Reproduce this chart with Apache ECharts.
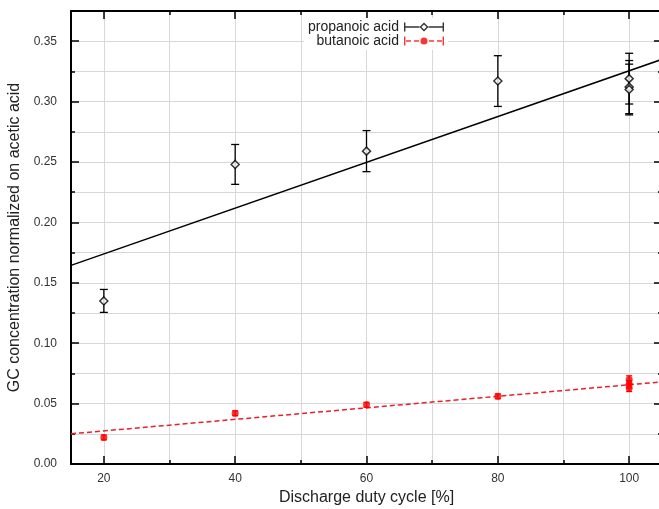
<!DOCTYPE html>
<html>
<head>
<meta charset="utf-8">
<script src="https://cdn.jsdelivr.net/npm/echarts@6/dist/echarts.min.js"></script>
<style>
  html, body { margin: 0; padding: 0; background: #fff; }
  #chart { width: 659px; height: 509px; }
</style>
</head>
<body>
<div id="chart"></div>
<script>
// values
const dutyCycle = [20, 40, 60, 80, 100, 100, 100]
const propanoic = [0.135, 0.248, 0.259, 0.317, 0.319, 0.312, 0.310]
const propanoicErr = [0.0095, 0.0165, 0.017, 0.021, 0.021, 0.022, 0.021]
const butanoic = [0.022, 0.042, 0.049, 0.056, 0.070, 0.066, 0.063]
const butanoicErr = [0.002, 0.002, 0.002, 0.002, 0.003, 0.003, 0.003]
// linear fits drawn across the plot
const propanoicFit = [[15, 0.1644], [105, 0.335]]
const butanoicFit = [[15, 0.025], [105, 0.068]]

// tick labels / grid
const xLabels = [20, 40, 60, 80, 100]
const xGrid = [20, 30, 40, 50, 60, 70, 80, 90, 100]
const yLabels = [0, 0.05, 0.1, 0.15, 0.2, 0.25, 0.3, 0.35]
const yGrid = [0, 0.025, 0.05, 0.075, 0.1, 0.125, 0.15, 0.175, 0.2, 0.225, 0.25, 0.275, 0.3, 0.325, 0.35, 0.375]

const FONT = '"Liberation Sans", Arial, sans-serif'
const chart = echarts.init(document.getElementById('chart'))

function tickAxis(position, min, max, ticks, len, withLine) {
  return {
    type: 'value', position: position, min: min, max: max,
    axisLine: { show: withLine, onZero: false, lineStyle: { color: '#000', width: 2 } },
    axisTick: { show: true, inside: true, length: len, customValues: ticks, lineStyle: { color: '#000', width: 1.5 } },
    axisLabel: { show: false },
    splitLine: { show: false }
  }
}

// error bars: value = [x, low, high]
function errorBars(color, capHalf, width) {
  return function (params, api) {
    const x = api.value(0)
    const lo = api.coord([x, api.value(1)])
    const hi = api.coord([x, api.value(2)])
    const style = { stroke: color, lineWidth: width }
    return {
      type: 'group',
      children: [
        { type: 'line', shape: { x1: lo[0], y1: lo[1], x2: hi[0], y2: hi[1] }, style: style },
        { type: 'line', shape: { x1: lo[0] - capHalf, y1: lo[1], x2: lo[0] + capHalf, y2: lo[1] }, style: style },
        { type: 'line', shape: { x1: hi[0] - capHalf, y1: hi[1], x2: hi[0] + capHalf, y2: hi[1] }, style: style }
      ]
    }
  }
}

const propIcon = 'path://M0 0L1.4 0L1.4 9L0 9ZM38.6 0L40 0L40 9L38.6 9Z' +
  'M1 3.8L15.5 3.8L15.5 5.2L1 5.2ZM24.5 3.8L39 3.8L39 5.2L24.5 5.2Z' +
  'M20 0L24.5 4.5L20 9L15.5 4.5ZM20 1.9L17.4 4.5L20 7.1L22.6 4.5Z'
const butIcon = 'path://M0 0L1.4 0L1.4 9L0 9ZM38.6 0L40 0L40 9L38.6 9Z' +
  'M2 3.8L7 3.8L7 5.2L2 5.2ZM10 3.8L15 3.8L15 5.2L10 5.2Z' +
  'M25 3.8L30 3.8L30 5.2L25 5.2ZM33 3.8L38 3.8L38 5.2L33 5.2Z' +
  'M23.5 4.5A3.5 3.5 0 1 1 16.5 4.5A3.5 3.5 0 1 1 23.5 4.5Z'

const xMain = {
  type: 'value', position: 'bottom', min: 15, max: 105,
  name: 'Discharge duty cycle [%]', nameLocation: 'middle', nameGap: 26,
  nameTextStyle: { fontFamily: FONT, fontSize: 16, color: '#222' },
  axisLine: { show: true, onZero: false, lineStyle: { color: '#000', width: 2 } },
  axisTick: { show: true, inside: true, length: 4, customValues: xGrid, lineStyle: { color: '#000', width: 1.5 } },
  axisLabel: { customValues: xLabels, fontFamily: FONT, fontSize: 12, color: '#333', margin: 9 },
  splitLine: { show: true, lineStyle: { color: '#d8d8d8', width: 1 } }
}
const yMain = {
  type: 'value', position: 'left', min: 0, max: 0.375,
  name: 'GC concentration normalized on acetic acid', nameLocation: 'middle', nameGap: 43,
  nameTextStyle: { fontFamily: FONT, fontSize: 16, color: '#222' },
  axisLine: { show: true, onZero: false, lineStyle: { color: '#000', width: 2 } },
  axisTick: { show: true, inside: true, length: 4, customValues: yGrid, lineStyle: { color: '#000', width: 1.5 } },
  axisLabel: { customValues: yLabels, fontFamily: FONT, fontSize: 12, color: '#333', margin: 14,
    formatter: function (v) { return v.toFixed(2) } },
  splitLine: { show: true, lineStyle: { color: '#d8d8d8', width: 1 } }
}

chart.setOption({
  animation: false,
  backgroundColor: '#fff',
  grid: { left: 71, right: -3, top: 11, bottom: 45, outerBoundsMode: 'none' },
  legend: {
    orient: 'vertical', align: 'right', right: 211, top: 18,
    backgroundColor: '#fff', padding: [2, 4, 2, 4],
    itemWidth: 40, itemHeight: 9, itemGap: 0,
    textStyle: { fontFamily: FONT, fontSize: 14, color: '#222', lineHeight: 13 },
    data: [
      { name: 'propanoic acid', icon: propIcon, itemStyle: { color: '#000', borderWidth: 0 } },
      { name: 'butanoic acid', icon: butIcon, itemStyle: { color: '#f00', borderWidth: 0 } }
    ]
  },
  xAxis: [
    xMain,
    tickAxis('bottom', 15, 105, xLabels, 8, false),
    tickAxis('top', 15, 105, xGrid, 4, true),
    tickAxis('top', 15, 105, xLabels, 8, false)
  ],
  yAxis: [
    yMain,
    tickAxis('left', 0, 0.375, yLabels, 8, false),
    tickAxis('right', 0, 0.375, yGrid, 4, true),
    tickAxis('right', 0, 0.375, yLabels, 8, false)
  ],
  series: [
    {
      name: 'propanoic fit', type: 'line', data: propanoicFit, showSymbol: false, z: 1,
      lineStyle: { color: '#000', width: 1.5 }, silent: true
    },
    {
      name: 'butanoic fit', type: 'line', data: butanoicFit, showSymbol: false, z: 1,
      lineStyle: { color: '#e8202a', width: 1.5, type: [5, 3] }, silent: true
    },
    {
      name: 'propanoic err', type: 'custom', z: 3,
      renderItem: errorBars('#000', 4, 1.3),
      encode: { x: 0, y: [1, 2] },
      data: dutyCycle.map(function (x, i) { return [x, propanoic[i] - propanoicErr[i], propanoic[i] + propanoicErr[i]] })
    },
    {
      name: 'butanoic err', type: 'custom', z: 3,
      renderItem: errorBars('#f00', 3, 1.3),
      encode: { x: 0, y: [1, 2] },
      data: dutyCycle.map(function (x, i) { return [x, butanoic[i] - butanoicErr[i], butanoic[i] + butanoicErr[i]] })
    },
    {
      name: 'propanoic acid', type: 'scatter', z: 4, symbol: 'diamond', symbolSize: 8,
      itemStyle: { color: '#fff', borderColor: '#000', borderWidth: 1.5 },
      data: dutyCycle.map(function (x, i) { return [x, propanoic[i]] })
    },
    {
      name: 'butanoic acid', type: 'scatter', z: 4, symbol: 'circle', symbolSize: 7,
      itemStyle: { color: '#f00' },
      data: dutyCycle.map(function (x, i) { return [x, butanoic[i]] })
    }
  ]
})
</script>
</body>
</html>
